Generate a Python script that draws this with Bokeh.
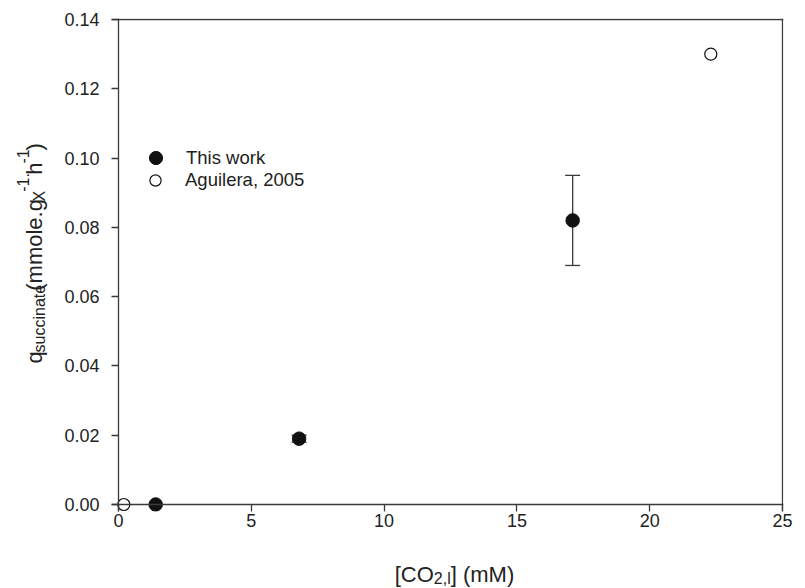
import math
from bokeh.plotting import figure
from bokeh.layouts import column, row
from bokeh.models import (Range1d, FixedTicker, PrintfTickFormatter, Whisker,
                          ColumnDataSource, Legend, LegendItem, Span)
from bokeh.core.properties import value
from bokeh.embed import file_html
from bokeh.resources import INLINE

# ---------------- data ----------------
series_names = ["This work", "Aguilera, 2005"]
this_x = [1.4, 6.8, 17.1]
this_y = [0.000, 0.019, 0.082]
this_err = [0.000, 0.001, 0.013]
agu_x = [0.2, 22.3]
agu_y = [0.000, 0.130]
x_ticks = [0, 5, 10, 15, 20, 25]
y_ticks = [0.00, 0.02, 0.04, 0.06, 0.08, 0.10, 0.12, 0.14]

FONT = "Liberation Sans"
AX = "#3a3a3a"
TXT = "#222222"

# ---------------- layout constants (pixels) ----------------
TOTAL_W, TOTAL_H = 804, 587
YLAB_W = 58
MAIN_W, MAIN_H = TOTAL_W - YLAB_W, 540
XLAB_H = TOTAL_H - MAIN_H
DATA_W, DATA_H = 664, 485       # pixel size of 0..25 and 0..0.14
PAD_LO, PAD_HI = 7, 1           # frame padding beyond the axes
FRAME_L = 111 - YLAB_W
FRAME_T = 18
FRAME_W = DATA_W + PAD_LO + PAD_HI
FRAME_H = DATA_H + PAD_LO + PAD_HI

xmax, ymax = x_ticks[-1], y_ticks[-1]
pxx = DATA_W / xmax
pxy = DATA_H / ymax

p = figure(width=MAIN_W, height=MAIN_H,
           x_range=Range1d(-PAD_LO / pxx, xmax + PAD_HI / pxx),
           y_range=Range1d(-PAD_LO / pxy, ymax + PAD_HI / pxy),
           output_backend="svg", toolbar_location=None,
           min_border_left=FRAME_L, min_border_top=FRAME_T,
           min_border_right=MAIN_W - FRAME_L - FRAME_W,
           min_border_bottom=MAIN_H - FRAME_T - FRAME_H)
p.outline_line_color = None
p.background_fill_color = "white"
p.border_fill_color = "white"
p.xgrid.visible = False
p.ygrid.visible = False

for ax, ticks in ((p.xaxis[0], x_ticks), (p.yaxis[0], y_ticks)):
    ax.ticker = FixedTicker(ticks=ticks)
    ax.axis_line_color = None
    ax.major_tick_line_color = AX
    ax.major_tick_line_width = 1.3
    ax.major_tick_in = PAD_LO
    ax.major_tick_out = 0
    ax.minor_tick_line_color = None
    ax.major_label_text_font = FONT
    ax.major_label_text_font_size = "18px"
    ax.major_label_text_color = TXT
p.xaxis[0].major_label_standoff = 2
p.xaxis[0].formatter = PrintfTickFormatter(format="%d")
p.yaxis[0].major_label_standoff = 12
p.yaxis[0].formatter = PrintfTickFormatter(format="%.2f")

# axis lines and the box (top / right)
for loc, dim in ((0, "width"), (0, "height"), (ymax, "width"), (xmax, "height")):
    p.add_layout(Span(location=loc, dimension=dim, line_color=AX, line_width=1.3))

# error bars
ex = [x for x, e in zip(this_x, this_err) if e > 0]
eu = [y + e for y, e in zip(this_y, this_err) if e > 0]
el = [y - e for y, e in zip(this_y, this_err) if e > 0]
esrc = ColumnDataSource(dict(x=ex, upper=eu, lower=el))
w = Whisker(source=esrc, base="x", upper="upper", lower="lower", dimension="height",
            line_color=AX, line_width=1.3)
for h in (w.upper_head, w.lower_head):
    h.size = 15
    h.line_color = AX
    h.line_width = 1.3
p.add_layout(w)

r1 = p.scatter(this_x, this_y, size=13.5, marker="circle", fill_color="#111111", line_color="#111111")
r2 = p.scatter(agu_x, agu_y, size=12, marker="circle", fill_color="white", line_color="#111111", line_width=1.2)

# legend: one Legend per entry so that the marker boxes may overlap (22px row pitch)
leg_common = dict(border_line_color=None, background_fill_alpha=0,
                  label_text_font=FONT, label_text_font_size="18.5px", label_text_color=TXT,
                  label_height=22, spacing=0, padding=0, margin=0)
leg1 = Legend(items=[LegendItem(label=series_names[0], renderers=[r1])],
              location=(28, 337), glyph_width=33, glyph_height=33, label_standoff=14, **leg_common)
leg2 = Legend(items=[LegendItem(label=series_names[1], renderers=[r2])],
              location=(30, 317), glyph_width=28, glyph_height=28, label_standoff=16, **leg_common)
p.add_layout(leg1)
p.add_layout(leg2)

# ---------- composite axis labels (real text) in side figures ----------
W = {'q': 556, 's': 500, 'u': 556, 'c': 500, 'i': 222, 'n': 556, 'a': 556, 't': 278, 'e': 556,
     ' ': 278, '(': 333, 'm': 833, 'o': 556, 'l': 222, '.': 278, 'g': 556, 'X': 667, '-': 333,
     '1': 556, 'h': 556, ')': 333, '[': 278, 'C': 722, 'O': 778, '2': 556, ',': 278, ']': 278,
     'M': 833}


def tw(s, fs):
    return sum(W[c] for c in s) * fs / 1000.0


def blank(wd, ht):
    f = figure(width=wd, height=ht, x_range=Range1d(0, wd), y_range=Range1d(0, ht),
               output_backend="svg", toolbar_location=None, x_axis_type=None, y_axis_type=None,
               min_border=0, min_border_left=0, min_border_right=0,
               min_border_top=0, min_border_bottom=0)
    f.outline_line_color = None
    f.background_fill_color = "white"
    f.border_fill_color = "white"
    return f


MAIN, SMALL = 22, 16

# y label: (text, font size, baseline shift: + = subscript, - = superscript)
ylab = blank(YLAB_W, MAIN_H)
ypieces = [("q", MAIN, 0), ("succinate", SMALL, 5), (" (mmole.g", MAIN, 0), ("X", SMALL, 5),
           ("-1.", SMALL, -12), ("h", MAIN, 0), ("-1", SMALL, -12), (")", MAIN, 0)]
ypos = MAIN_H - 378.0
base_x = 34.0
for t, fs, sh in ypieces:
    ylab.text(x=[base_x + sh], y=[ypos], text=[t], angle=math.pi / 2,
              text_font=value(FONT), text_font_size=value(f"{fs}px"), text_color=TXT,
              text_align="left", text_baseline="alphabetic")
    ypos += tw(t, fs)

xlab = blank(TOTAL_W, XLAB_H)
xpieces = [("[CO", MAIN, 0), ("2,l", SMALL, 4), ("] (mM)", MAIN, 0)]
total = sum(tw(t, fs) for t, fs, _ in xpieces)
xpos = 454.0 - total / 2
base_y = TOTAL_H - 574.0
for t, fs, sh in xpieces:
    xlab.text(x=[xpos], y=[base_y - sh], text=[t],
              text_font=value(FONT), text_font_size=value(f"{fs}px"), text_color=TXT,
              text_align="left", text_baseline="alphabetic")
    xpos += tw(t, fs)

layout = column(row(ylab, p), xlab)
open("out.html", "w").write(file_html(layout, INLINE))
